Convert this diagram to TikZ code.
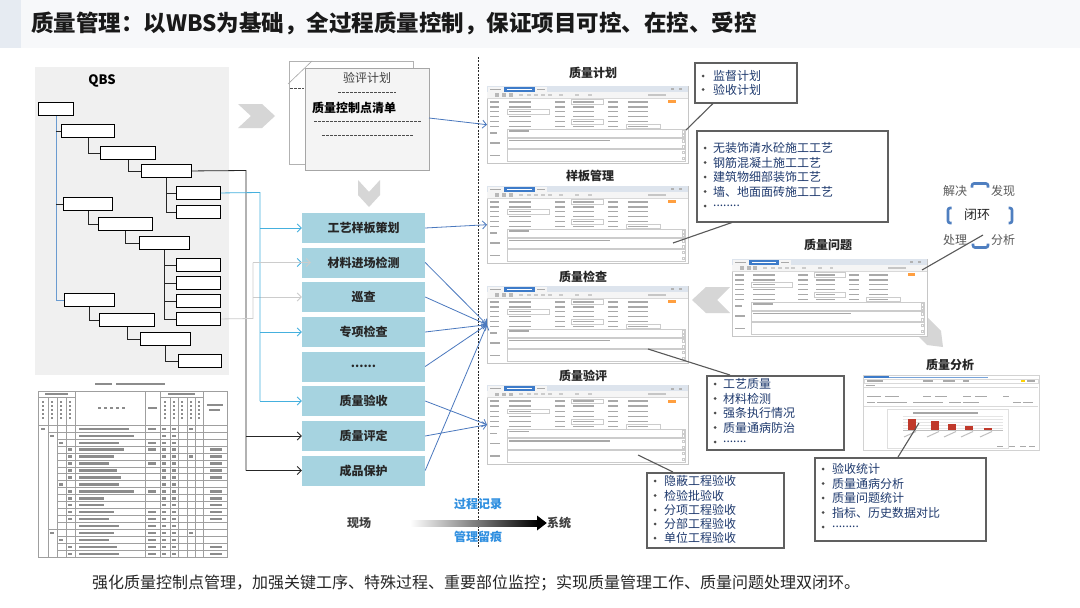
\documentclass[tikz,border=0pt]{standalone}
\usepackage{fontspec}
\setmainfont{Noto Sans CJK SC}
\usetikzlibrary{arrows.meta}
\definecolor{listblue}{HTML}{A6D3E0}
\definecolor{steel}{HTML}{4A78BE}
\definecolor{cyanl}{HTML}{45B0DE}
\definecolor{treeblue}{HTML}{6A9BD0}
\definecolor{navy}{HTML}{1F3A6E}
\definecolor{loopblue}{HTML}{4F7FC0}
\definecolor{tblue}{HTML}{2F8FE0}
\definecolor{panel}{HTML}{F0F0F0}
\definecolor{titlebg}{HTML}{F7F8FA}
\definecolor{titleleft}{HTML}{E6EBF2}
\definecolor{chev}{HTML}{D6D6D6}
\definecolor{hdr}{HTML}{DDE4ED}
\definecolor{tabblue}{HTML}{3D7BC9}
\definecolor{barred}{HTML}{C0392B}
\definecolor{tx}{HTML}{A9A9A9}
\definecolor{tbx}{HTML}{8C8C8C}
\newcommand\fsz[1]{\fontsize{#1}{#1}\selectfont}
\newcommand\bline[5]{%
  \fill[black!70] (#2,#4) circle (1.5pt);
  \node[anchor=west, inner sep=0, font=\fsz{12}, text=navy] (#1) at (#3,#4) {#5};}
\newcommand\formui[5]{%
  \node[draw=gray!45, fill=white, minimum width=#4, minimum height=#5, anchor=north west, inner sep=0] (#1) at (#2,#3) {};
  \begin{scope}[shift={(#2,#3)}, xscale=#4/200, yscale=#5/78]
    \fill[hdr] (0,0) rectangle (200,6);
    \fill[white!92!gray] (1,1.2) rectangle (17,6);
    \fill[tx] (3,3) rectangle (14,4.3);
    \fill[tabblue] (17,0.6) rectangle (48,6);
    \fill[white] (20,2.9) rectangle (45,4.2);
    \fill[white!92!gray] (48,1.2) rectangle (60,6);
    \fill[tx] (50,3) rectangle (58,4.3);
    \fill[gray!60] (183,2.5) rectangle (186,4.5);
    \fill[gray!60] (191,2.5) rectangle (194,4.5);
    \fill[gray!8] (0,6) rectangle (200,12);
    \foreach \i in {8,15,22} {\fill[gray!55] (\i,7.5) rectangle (\i+4,10.8);}
    \foreach \i in {32,40,47,54,61,72,88,100} {\fill[gray!40] (\i,8.3) rectangle (\i+4,9.8);}
    \fill[gray!45] (160,8.2) rectangle (178,9.8);
    \draw[gray!30,line width=.3] (0,12) -- (200,12);
    \foreach \y in {16,21,26,31,36,41} {
      \fill[tx] (3,\y-0.8) rectangle (12,\y+0.8);
      \fill[tx] (22,\y-0.8) rectangle (44,\y+0.8);
      \fill[tx] (68,\y-0.8) rectangle (78,\y+0.8);
      \fill[tx] (86,\y-0.8) rectangle (106,\y+0.8);
      \fill[tx] (120,\y-0.8) rectangle (130,\y+0.8);
      \fill[tx] (140,\y-0.8) rectangle (160,\y+0.8);
    }
    \draw[gray!40,line width=.3] (20,23.8) rectangle (62,28.2);
    \draw[gray!40,line width=.3] (84,13.8) rectangle (116,18.2);
    \draw[gray!40,line width=.3] (84,33.8) rectangle (116,38.2);
    \draw[gray!40,line width=.3] (138,38.8) rectangle (172,43.2);
    \fill[orange!75] (180,14.5) rectangle (188,17.5);
    \draw[gray!40,line width=.35,fill=white] (20,44) rectangle (197,51.5);
    \draw[gray!40,line width=.35,fill=white] (20,52.5) rectangle (197,63);
    \draw[gray!40,line width=.35,fill=white] (20,64) rectangle (197,76.5);
    \fill[tx] (3,47) rectangle (10,48.5);
    \fill[tx] (3,57) rectangle (13,58.5);
    \fill[tx] (3,69.5) rectangle (13,71);
    \fill[tx] (22,45) rectangle (42,46.3);
    \fill[tx] (22,54.5) rectangle (122,56);
    \foreach \y in {45,48.5,54,60,66,72} {\draw[gray!40,line width=.3] (194,\y) rectangle (196.5,\y+2.5);}
  \end{scope}}
\begin{document}
\begin{tikzpicture}[x=1pt,y=-1pt,
  tb/.style={draw=black, line width=0.9pt, fill=white, minimum height=13, inner sep=0, anchor=north west},
  tline/.style={draw=black!85, line width=0.8pt},
  lb/.style={fill=listblue, minimum width=123, minimum height=30, inner sep=0, font=\bfseries\fsz{12}, text=black!85},
  tip/.style={-{Straight Barb[length=4pt,width=8pt]}},
  bluel/.style={steel, line width=0.8pt, tip},
  bulbox/.style={draw=gray!75!black, line width=1.5pt, fill=white, inner sep=0, anchor=north west},
  callout/.style={draw=gray!70!black, line width=1.1pt},
  stitle/.style={font=\bfseries\fsz{12}, text=black!85, inner sep=0},
  looptxt/.style={font=\fsz{12}, text=black!65, inner sep=0}]
\useasboundingbox (0,0) rectangle (1080,608);
\fill[white] (0,0) rectangle (1080,608);
% title
\fill[titlebg] (0,0) rectangle (1080,48);
\fill[titleleft] (0,0) rectangle (21,48);
\node[anchor=west, inner sep=0, font=\bfseries\fsz{22.5}, text=black!90] (title) at (31,23) {质量管理：以WBS为基础，全过程质量控制，保证项目可控、在控、受控};
% QBS panel
\fill[panel] (35,67) rectangle (229,375);
\node[font=\bfseries\fsz{13}, inner sep=0] (qbs) at (102,81) {QBS};
\node[tb, minimum width=35] (b1) at (38,102) {};
\node[tb, minimum width=53] (b2) at (61,124) {};
\node[tb, minimum width=55] (b3) at (100,146) {};
\node[tb, minimum width=50] (b4) at (141,164) {};
\node[tb, minimum width=44] (b5) at (176,186) {};
\node[tb, minimum width=44] (b6) at (176,205) {};
\node[tb, minimum width=49] (b7) at (63,197) {};
\node[tb, minimum width=54] (b8) at (98,217) {};
\node[tb, minimum width=50] (b9) at (139,236) {};
\node[tb, minimum width=44] (b10) at (176,258) {};
\node[tb, minimum width=44] (b11) at (176,276) {};
\node[tb, minimum width=44] (b12) at (176,294) {};
\node[tb, minimum width=44] (b13) at (176,312) {};
\node[tb, minimum width=50] (b14) at (64,293) {};
\node[tb, minimum width=55] (b15) at (99,313) {};
\node[tb, minimum width=50] (b16) at (140,332) {};
\node[tb, minimum width=43] (b17) at (178,354) {};
\draw[treeblue, line width=0.9pt] (b1.south) |- (b14.west);
\draw[tline] (b1.south |- b2.west) -- (b2.west);
\draw[tline] (b1.south |- b7.west) -- (b7.west);
\draw[tline] (b2.south) |- (b3.west);
\draw[tline] (b3.south) |- (b4.west);
\draw[tline] (b4.south) |- (b6.west);
\draw[tline] (b4.south |- b5.west) -- (b5.west);
\draw[tline] (b7.south) |- (b8.west);
\draw[tline] (b8.south) |- (b9.west);
\draw[tline] (b9.south) |- (b13.west);
\foreach \n in {b10,b11,b12} {\draw[tline] (b9.south |- \n.west) -- (\n.west);}
\draw[tline] (b14.south) |- (b15.west);
\draw[tline] (b15.south) |- (b16.west);
\draw[tline] (b16.south) |- (b17.west);
% table
\begin{scope}[line width=0.4pt, draw=gray!75]
\fill[tbx] (95,383) rectangle (112,385.4);
\fill[tbx] (116,383) rectangle (165,385.4);
\draw (38,391) rectangle (227,557);
\draw (38,425) -- (227,425);
\draw (38,397) -- (75,397);
\draw (160,397) -- (203,397);
\foreach \x in {48,57,66} {\draw (\x,397) -- (\x,557);}
\foreach \x in {75,145,160,203} {\draw (\x,391) -- (\x,557);}
\foreach \x in {170,178,187,195} {\draw (\x,397) -- (\x,557);}
\foreach \i in {1,...,18} {\draw (57,425+\i*6.95) -- (227,425+\i*6.95);}
\foreach \i in {1,15} {\draw (48,425+\i*6.95) -- (57,425+\i*6.95);}
\foreach \x in {42,51,60,69} {\foreach \yy in {401,405,409,413,417} {\fill[tbx] (\x,\yy) rectangle (\x+2.2,\yy+2.4);}}
\foreach \x in {163.5,172.5,181,189.5,197.5} {\foreach \yy in {401,405,409,413,417} {\fill[tbx] (\x,\yy) rectangle (\x+2.2,\yy+2.4);}}
\fill[tbx] (45,392.8) rectangle (68,395.2);
\fill[tbx] (168,392.8) rectangle (195,395.2);
\foreach \xx in {98,104,110,116,122} {\fill[tbx] (\xx,406.8) rectangle (\xx+3,409.2);}
\fill[tbx] (148,406.8) rectangle (157,409.2);
\fill[tbx] (207,403.8) rectangle (223,406.2);
\fill[tbx] (209,408.8) rectangle (220,411.2);
\foreach \L [count=\i from 0] in {50,55,40,45,35,30,38,42,40,55,25,25,35,30,40,35,30,38,40} {
  \fill[tbx] (79,427.6+\i*6.95) rectangle (79+\L,430+\i*6.95);
  \fill[tbx] (162,427.6+\i*6.95) rectangle (166,430+\i*6.95);
  \fill[tbx] (172,427.6+\i*6.95) rectangle (176,430+\i*6.95);
}
\foreach \i in {0,2,3,5,9,12,13,14,15,16,17,18} {\fill[tbx] (148,427.6+\i*6.95) rectangle (156,430+\i*6.95);}
\foreach \i in {3,4,5,6,7,9,10,11,12,13,17,18} {\fill[tbx] (210,427.6+\i*6.95) rectangle (222,430+\i*6.95);}
\foreach \i in {3,4,5,6,7,9,10,11,12,13,17,18} {\fill[tbx] (68,427.6+\i*6.95) rectangle (72,430+\i*6.95);}
\foreach \i in {2,8,16} {\fill[tbx] (59,427.6+\i*6.95) rectangle (63,430+\i*6.95);}
\foreach \i in {1,15} {\fill[tbx] (50,427.6+\i*6.95) rectangle (54,430+\i*6.95);}
\foreach \i in {0,4,15} {\fill[tbx] (189,427.6+\i*6.95) rectangle (193,430+\i*6.95);}
\fill[tbx] (41,427.6) rectangle (45,430);
\end{scope}
% chevrons
\fill[chev] (238,104) -- (262,104) -- (275,116) -- (262,128) -- (238,128) -- (251,116) -- cycle;
\fill[chev] (358,180) -- (369,192) -- (380,180) -- (380,195) -- (369,207) -- (358,195) -- cycle;
\fill[chev] (730,287) -- (706,287) -- (692,300) -- (706,313) -- (730,313) -- (717,300) -- cycle;
\fill[chev] (914,332) -- (927,345) -- (943,347) -- (941,331) -- (928,318) -- (928,332) -- cycle;
% document stack
\node[draw=gray!60, fill=white, minimum width=124, minimum height=103, anchor=north west, inner sep=0] (docb) at (289,61) {};
\draw[gray!70, line width=0.6pt] (288,84) -- (312,61);
\draw[gray!60!black, dash pattern=on 2.5pt off 1.5pt] (290,88) -- (304,88);
\node[draw=gray!70, fill=gray!9, minimum width=124, minimum height=102, anchor=north west, inner sep=0] (docf) at (305,68) {};
\node[font=\fsz{12}, text=black!75, inner sep=0] (dt1) at (367,78) {验评计划};
\draw[gray!60!black, dash pattern=on 2.5pt off 1.5pt] (338,92) -- (396,92);
\node[font=\bfseries\fsz{12}, anchor=west, inner sep=0] (dt2) at (312,108) {质量控制点清单};
\draw[gray!60!black, dash pattern=on 2.5pt off 1.5pt] (314,121) -- (421,121);
\draw[gray!60!black, dash pattern=on 2.5pt off 1.5pt] (322,135) -- (413,135);
% list boxes
\node[lb] (l1) at (363.5,228) {工艺样板策划};
\node[lb] (l2) at (363.5,262.5) {材料进场检测};
\node[lb] (l3) at (363.5,297) {巡查};
\node[lb] (l4) at (363.5,332) {专项检查};
\node[lb] (l5) at (363.5,366.5) {......};
\node[lb] (l6) at (363.5,401) {质量验收};
\node[lb] (l7) at (363.5,436) {质量评定};
\node[lb] (l8) at (363.5,470.5) {成品保护};
% tree to list connectors
\coordinate (bk1) at (246,170.5);
\draw[black!85, line width=0.8pt] (b4.east) -- (bk1) -- (bk1 |- l8.west);
\foreach \n in {l7,l8} {\draw[black!85, line width=0.8pt, tip] (bk1 |- \n.west) -- (\n.west);}
\coordinate (gy1) at (253,318.5);
\draw[gray!40, line width=0.8pt] (b13.east) -- (gy1) -- (gy1 |- l2.west);
\draw[gray!40, line width=0.8pt, tip] (gy1 |- l3.west) -- (l3.west);
\coordinate (cy1) at (260,192.5);
\draw[cyanl, line width=0.8pt] (b5.east) -- (cy1) -- (cy1 |- l6.west);
\foreach \n in {l1,l2,l4,l6} {\draw[cyanl, line width=0.8pt, tip] (cy1 |- \n.west) -- (\n.west);}
\draw[gray!40, line width=0.8pt, tip] (gy1 |- l2.west) -- ([xshift=9pt]l2.west);
% dashed divider
\draw[gray!30!black, line width=0.8pt, dash pattern=on 2pt off 1.3pt] (478,57) -- (478,548);
% forms
\node[stitle] (t1) at (593,73) {质量计划};
\formui{f1}{487}{86}{201}{77}
\node[stitle] (t2) at (590,176) {样板管理};
\formui{f2}{487}{186}{201}{77}
\node[stitle] (t3) at (583,277) {质量检查};
\formui{f3}{487}{286}{201}{77}
\node[stitle] (t4) at (583,376) {质量验评};
\formui{f4}{487}{385}{201}{79}
\node[stitle] (t5) at (828,245) {质量问题};
\formui{f5}{732}{259}{195}{77}
% chart screenshot
\node[stitle] (t6) at (950,365) {质量分析};
\node[draw=gray!35, fill=white, minimum width=176, minimum height=75, anchor=north west, inner sep=0] (f6) at (863,375) {};
\begin{scope}[shift={(863,375)}]
  \fill[tabblue] (1,0.5) rectangle (26,2.5);
  \fill[tabblue!70] (26,1.6) rectangle (125,2.4);
  \draw[gray!30, line width=.3] (1,4) rectangle (175,8);
  \fill[tx] (4,5.4) rectangle (20,6.6);
  \fill[tx] (60,5.4) rectangle (70,6.6);
  \fill[tx] (80,5.4) rectangle (92,6.6);
  \fill[tx] (100,5.4) rectangle (106,6.6);
  \fill[yellow!70!orange] (158,5) rectangle (162,7);
  \fill[tx] (164,5.4) rectangle (172,6.6);
  \fill[tx] (3,9.5) rectangle (12,10.7);
  \draw[gray!30, line width=.3] (1,12) -- (175,12);
  \foreach \xx/\ww in {4/14,22/14,60/8,72/12,100/8,112/12,140/6} {\fill[tx] (\xx,21) rectangle (\xx+\ww,22.2);}
  \foreach \xx/\ww in {4/8,14/30,50/30,86/12,100/16,150/8,160/10} {\fill[tx] (\xx,27) rectangle (\xx+\ww,28.2);}
  \draw[gray!30, line width=.3] (1,31) -- (175,31);
  \draw[gray!25, line width=.3] (24,34) rectangle (145,73);
  \fill[gray!70] (50,37) rectangle (115,38.6);
  \foreach \yy in {41,44,47,50,53} {\draw[gray!20, line width=.25] (40,\yy) -- (140,\yy);}
  \draw[gray!50, line width=.3] (40,55) -- (140,55);
  \foreach \bx/\by in {45/44,68/46,85/49,102/51,121/53} {\fill[barred] (\bx,\by) rectangle (\bx+8,55);}
  \foreach \bx in {45,68,85,102,121} {\draw[gray!50, line width=1pt] (\bx-4,62) -- (\bx+8,56.5);}
  \foreach \xx in {140,152,163,172} {\fill[tx] (\xx-6,70.5) rectangle (\xx,71.7);}
\end{scope}
\coordinate (f6c) at (919,423);
% arrows to forms
\coordinate (dockout) at (429,118);
\draw[bluel] (dockout) -- (f1.west);
\draw[bluel] (l1.east) -- (f2.west);
\foreach \n in {l2,l3,l4,l5,l8} {\draw[bluel] (\n.east) -- (f3.west);}
\foreach \n in {l6,l7} {\draw[bluel] (\n.east) -- (f4.west);}
% bullet boxes
\node[bulbox, minimum width=102, minimum height=40] (bxA) at (694,62) {};
\bline{a1}{703}{713}{76}{监督计划}
\bline{a2}{703}{713}{89.5}{验收计划}
\node[bulbox, minimum width=191, minimum height=91] (bxB) at (696,130) {};
\bline{bb1}{705}{713}{148}{无装饰清水砼施工工艺}
\bline{bb2}{705}{713}{162.5}{钢筋混凝土施工工艺}
\bline{bb3}{705}{713}{177}{建筑物细部装饰工艺}
\bline{bb4}{705}{713}{191.5}{墙、地面面砖施工工艺}
\bline{bb5}{705}{713}{206}{........}
\node[bulbox, minimum width=137, minimum height=74] (bxC) at (706,375) {};
\bline{c1}{715}{723}{384}{工艺质量}
\bline{c2}{715}{723}{398.5}{材料检测}
\bline{c3}{715}{723}{413}{强条执行情况}
\bline{c4}{715}{723}{427.5}{质量通病防治}
\bline{c5}{715}{723}{442}{.......}
\node[bulbox, minimum width=137, minimum height=75] (bxD) at (646,472) {};
\bline{d1}{655}{664}{481}{隐蔽工程验收}
\bline{d2}{655}{664}{495.5}{检验批验收}
\bline{d3}{655}{664}{510}{分项工程验收}
\bline{d4}{655}{664}{524}{分部工程验收}
\bline{d5}{655}{664}{538}{单位工程验收}
\node[bulbox, minimum width=171, minimum height=83] (bxE) at (814,457) {};
\bline{e1}{823}{832}{469}{验收统计}
\bline{e2}{823}{832}{483.5}{质量通病分析}
\bline{e3}{823}{832}{498}{质量问题统计}
\bline{e4}{823}{832}{512.5}{指标、历史数据对比}
\bline{e5}{823}{832}{527}{........}
% callouts
\coordinate (cA) at (686,130);
\coordinate (cB) at (673,243);
\coordinate (cC) at (648,349);
\coordinate (cD) at (638,455);
\coordinate (cL) at (983,235);
\coordinate (cF5) at (922,270);
\draw[callout] (bxA.south -| 713,0) -- (cA);
\draw[callout] (bxB.south -| 732,0) -- (cB);
\draw[callout] (bxC.north -| 730,0) -- (cC);
\draw[callout] (bxD.north -| 673,0) -- (cD);
\draw[callout] (bxE.north -| 898,0) -- (f6c);
\draw[callout] (cF5) -- (cL);
% closed loop
\node[looptxt] (lp1) at (955,191) {解决};
\node[looptxt] (lp2) at (1003,191) {发现};
\node[font=\fsz{13}, text=black!85, inner sep=0] (lp0) at (977,215) {闭环};
\node[looptxt] (lp3) at (955,240) {处理};
\node[looptxt] (lp4) at (1003,240) {分析};
\begin{scope}[loopblue, line width=2.6pt, rounded corners=2pt]
\draw (972,187.5) -- (972,183.5) -- (988,183.5) -- (988,187.5);
\draw (951.5,208) -- (948,208) -- (948,223) -- (951.5,223);
\draw (1008.5,208) -- (1012,208) -- (1012,223) -- (1008.5,223);
\draw (973,243.5) -- (973,247.5) -- (988,247.5) -- (988,243.5);
\end{scope}
% bottom flow
\node[font=\bfseries\fsz{12}, text=black!75, inner sep=0] (xc) at (359,523) {现场};
\node[font=\bfseries\fsz{12}, text=black!75, inner sep=0] (xt) at (559,523) {系统};
\node[font=\bfseries\fsz{12}, text=tblue, inner sep=0] (gc) at (478,504) {过程记录};
\node[font=\bfseries\fsz{12}, text=tblue, inner sep=0] (gl) at (478,537) {管理留痕};
\coordinate (ga) at (410,523);
\coordinate (gb) at (538,523);
\shade[left color=white, right color=black] (ga |- 0,520) rectangle (gb |- 0,526);
\fill[black] (537,515.5) -- (xt.west) -- (537,530.5) -- cycle;
% bottom text
\node[anchor=west, inner sep=0, font=\fsz{16}, text=black!85] (foot) at (92,583) {强化质量控制点管理，加强关键工序、特殊过程、重要部位监控；实现质量管理工作、质量问题处理双闭环。};
\end{tikzpicture}
\end{document}
